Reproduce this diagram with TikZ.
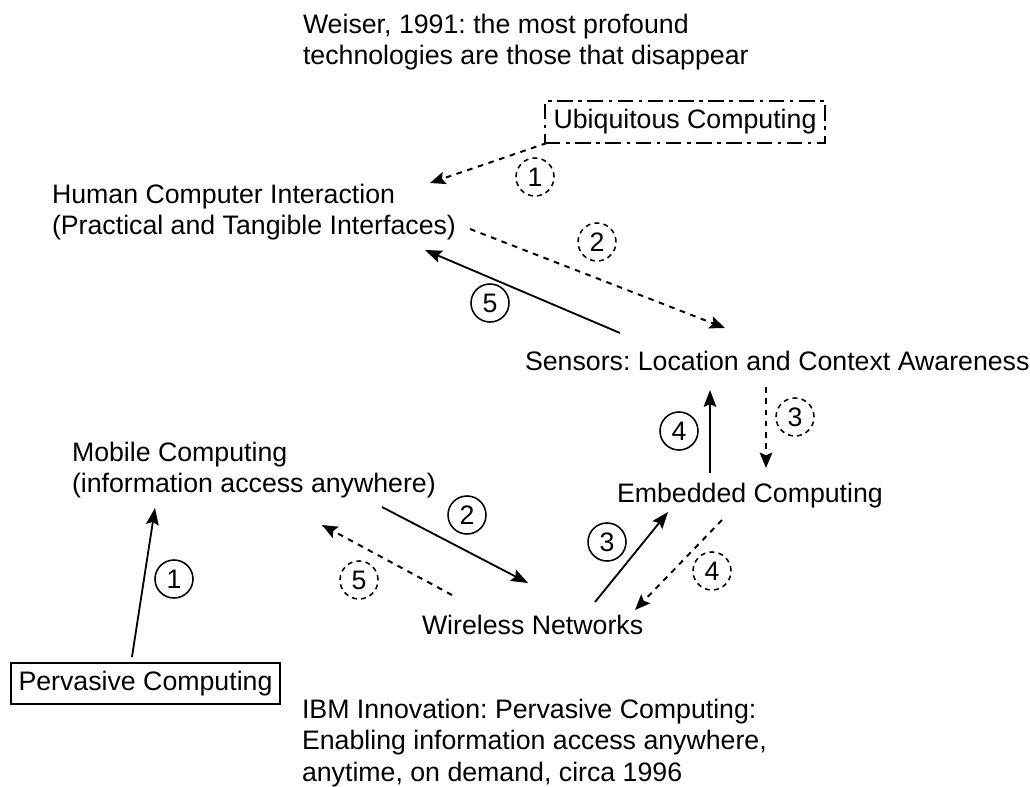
\documentclass[tikz,border=0pt]{standalone}
\usepackage{fontspec}
\setmainfont{Liberation Sans}
\usetikzlibrary{arrows.meta}
\frenchspacing

\begin{document}
\begin{tikzpicture}[x=0.025cm, y=-0.025cm,
  font=\fontsize{19}{22.3}\selectfont,
  lbl/.style={inner sep=0pt, outer sep=0pt},
  para/.style={lbl, align=left, anchor=north west},
  solidarr/.style={-{Stealth[length=12pt, width=9pt, inset=2pt]}, line width=1.3pt},
  dotarr/.style={-{Stealth[length=11pt, width=9pt, inset=2pt]}, line width=1.4pt, dash pattern=on 4pt off 4pt},
  num/.style={circle, draw, line width=1.1pt, minimum size=0.95cm, inner sep=0pt},
  dotnum/.style={num, dash pattern=on 3.5pt off 3pt}]
\useasboundingbox (0,0) rectangle (1030,787);

% 文字
\node[para] (weiser) at (303,14) {Weiser, 1991: the most profound\\technologies are those that disappear};
\node[lbl, draw, line width=1.4pt, dash pattern=on 11pt off 4pt on 2.5pt off 4pt,
  minimum width=7cm, minimum height=1.05cm] (ubi) at (685,122) {Ubiquitous Computing};
\node[para] (hci) at (52,184) {Human Computer Interaction\\(Practical and Tangible Interfaces)};
\node[lbl, anchor=base west] (sens) at (525,370) {Sensors: Location and Context Awareness};
\node[para] (mob) at (72,442) {Mobile Computing\\(information access anywhere)};
\node[lbl, anchor=base west] (embd) at (617,502) {Embedded Computing};
\node[lbl, anchor=base west] (wire) at (422,634) {Wireless Networks};
\node[lbl, draw, line width=1.4pt, minimum width=6.725cm, minimum height=1.025cm] (perv) at (145.5,683.5) {Pervasive Computing};
\node[para] (ibm) at (302,699) {IBM Innovation: Pervasive Computing:\\Enabling information access anywhere,\\anytime, on demand, circa 1996};

% 编号
\node[dotnum] (u1) at (535,177) {1};
\node[dotnum] (u2) at (597,242) {2};
\node[num] (u5) at (490,303) {5};
\node[dotnum] (r3) at (795,417) {3};
\node[num] (r4) at (679,431) {4};
\node[num] (l1) at (174,579) {1};
\node[num] (l2) at (467,515) {2};
\node[num] (l3) at (607,542) {3};
\node[dotnum] (l4) at (712,571) {4};
\node[dotnum] (l5) at (359,580) {5};

% 箭头
\draw[dotarr] ([shift={(2,0)}]ubi.south west) -- ([shift={(378,-1)}]hci.north west);
\draw[dotarr] ([shift={(418,45)}]hci.north west) -- ([shift={(200,-42)}]sens.base west);
\draw[solidarr] ([shift={(95,-37)}]sens.base west) -- ([shift={(373,66)}]hci.north west);
\draw[dotarr] ([shift={(241,17)}]sens.base west) -- ([shift={(149,-34)}]embd.base west);
\draw[solidarr] ([shift={(93,-29)}]embd.base west) -- ([shift={(185,20)}]sens.base west);
\draw[solidarr] ([shift={(121,-6)}]perv.north west) -- ([shift={(83,66)}]mob.north west);
\draw[solidarr] ([shift={(310,65)}]mob.north west) -- ([shift={(106,-51)}]wire.base west);
\draw[solidarr] ([shift={(173,-32)}]wire.base west) -- ([shift={(51,10)}]embd.base west);
\draw[dotarr] ([shift={(105,18)}]embd.base west) -- ([shift={(213,-24)}]wire.base west);
\draw[dotarr] ([shift={(30,-39)}]wire.base west) -- ([shift={(250,83)}]mob.north west);
\end{tikzpicture}
\end{document}
